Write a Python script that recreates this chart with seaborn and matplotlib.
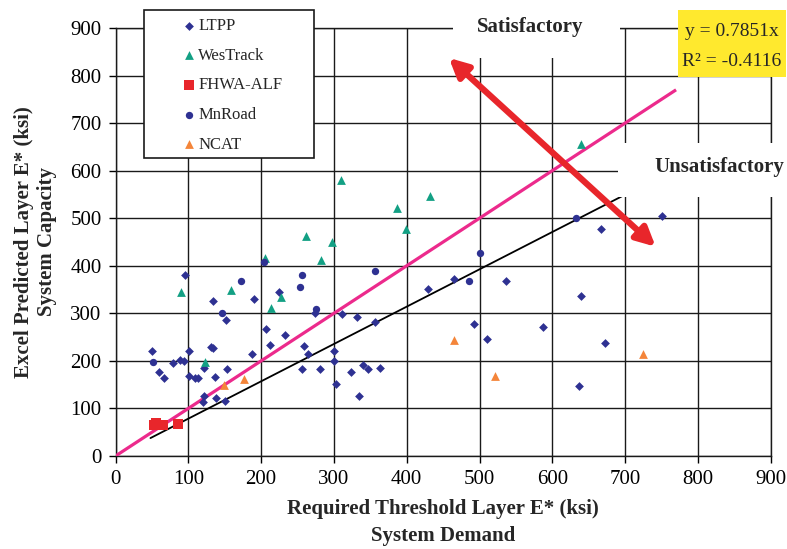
import matplotlib
matplotlib.use("Agg")
import numpy as np
import pandas as pd
import matplotlib.pyplot as plt
from matplotlib.patches import Rectangle
import seaborn as sns

# ---- data (ksi) ----
ltpp_x = [96, 134, 152, 190, 225, 207, 212, 233, 259, 264, 256, 50, 60, 67, 79, 89, 94,
          101, 101, 109, 114, 122, 131, 134, 137, 153, 188, 122, 120, 138, 150, 274, 311,
          332, 357, 429, 465, 492, 510, 300, 300, 281, 324, 340, 347, 364, 303, 335, 750,
          667, 536, 639, 587, 673, 637]
ltpp_y = [380, 326, 286, 330, 345, 267, 233, 254, 231, 214, 183, 221, 176, 164, 195, 202, 200,
          221, 169, 164, 164, 186, 230, 228, 166, 183, 214, 126, 113, 121, 115, 301, 299,
          292, 282, 351, 372, 278, 247, 221, 200, 183, 177, 191, 183, 185, 151, 126, 504,
          478, 367, 337, 271, 237, 147]

westrack_x = [90, 159, 205, 213, 227, 262, 123, 310, 432, 386, 399, 297, 282, 640]
westrack_y = [345, 350, 417, 311, 335, 463, 197, 580, 547, 521, 478, 450, 412, 657]

fhwa_x = [53, 55, 65, 86]
fhwa_y = [66, 70, 66, 67]

mnroad_x = [52, 146, 172, 204, 256, 253, 275, 357, 501, 485, 633]
mnroad_y = [198, 301, 367, 407, 381, 356, 310, 390, 426, 367, 500]

ncat_x = [149, 176, 465, 521, 724]
ncat_y = [149, 162, 243, 169, 214]

trend_slope = 0.7851
r_squared = -0.4116
trend_range = [48, 700]
equality_range = [0, 770]

sources = ["LTPP", "WesTrack", "FHWA-ALF", "MnRoad", "NCAT"]
series = {
    "LTPP": (ltpp_x, ltpp_y),
    "WesTrack": (westrack_x, westrack_y),
    "FHWA-ALF": (fhwa_x, fhwa_y),
    "MnRoad": (mnroad_x, mnroad_y),
    "NCAT": (ncat_x, ncat_y),
}
marker_style = {
    "LTPP": ("D", "#2E3192", 20),
    "WesTrack": ("^", "#13A084", 40),
    "FHWA-ALF": ("s", "#E8262B", 50),
    "MnRoad": ("o", "#2E3192", 28),
    "NCAT": ("^", "#F4853A", 40),
}

df = pd.concat(
    [pd.DataFrame({"demand": series[s][0], "capacity": series[s][1], "source": s}) for s in sources],
    ignore_index=True,
)

sns.set_style("ticks")
plt.rcParams["font.family"] = ["Liberation Serif", "DejaVu Serif"]

W, H = 787, 549
fig = plt.figure(figsize=(W / 100, H / 100), dpi=100)
ax = fig.add_axes([115.5 / W, (H - 456) / H, (770.7 - 115.5) / W, (456 - 28) / H])

def fx(px):
    return px / W

def fy(py):
    return 1 - py / H

# scatter series
for s in sources:
    m, c, size = marker_style[s]
    sns.scatterplot(data=df[df["source"] == s], x="demand", y="capacity", marker=m,
                    color=c, s=size, linewidth=0, ax=ax, label=s, zorder=4, legend=False)

# line of equality and linear trend
eq = np.array(equality_range)
ax.plot(eq, eq, color="#EC2A8C", lw=2.3, zorder=3, solid_capstyle="butt")
tr = np.array(trend_range)
ax.plot(tr, trend_slope * tr, color="black", lw=1.3, zorder=3)

ax.set_xlim(0, 900)
ax.set_ylim(0, 900)
ax.set_xticks(np.arange(0, 901, 100))
ax.set_yticks(np.arange(0, 901, 100))
ax.grid(True, color="#1a1a1a", lw=1.0)
ax.set_axisbelow(True)
for sp in ax.spines.values():
    sp.set_color("#1a1a1a")
    sp.set_linewidth(1.0)
ax.tick_params(direction="out", length=5, width=1, labelsize=15, pad=5, colors="black")

ax.set_xlabel("Required Threshold Layer E* (ksi)\nSystem Demand", fontsize=15,
              fontweight="bold", linespacing=1.5)
ax.xaxis.set_label_coords(0.5, -0.1)
ax.set_ylabel("Excel Predicted Layer E* (ksi)\nSystem Capacity", fontsize=15,
              fontweight="bold", linespacing=1.15)
ax.yaxis.set_label_coords(-0.09, 0.5)

# Satisfactory / Unsatisfactory zone labels
ax.add_patch(Rectangle((fx(453), fy(58)), fx(620) - fx(453), fy(8) - fy(58),
                       transform=fig.transFigure, facecolor="white", edgecolor="none",
                       clip_on=False, zorder=5))
fig.text(fx(530), fy(27), "Satisfactory", fontsize=15, fontweight="bold",
         ha="center", va="center", zorder=6)
ax.add_patch(Rectangle((fx(618), fy(197)), fx(787) - fx(618), fy(143) - fy(197),
                       transform=fig.transFigure, facecolor="white", edgecolor="none",
                       clip_on=False, zorder=5))
fig.text(fx(719), fy(167), "Unsatisfactory", fontsize=15, fontweight="bold",
         ha="center", va="center", zorder=6)

# double-headed arrow between the zones
ax.annotate("", xy=(458, 837), xytext=(742, 440),
            arrowprops=dict(arrowstyle="<|-|>", color="#E8262B", lw=4.5,
                            mutation_scale=28, shrinkA=0, shrinkB=0),
            zorder=7)

# regression equation box
ax.add_patch(Rectangle((fx(678), fy(77)), fx(786) - fx(678), fy(10) - fy(77),
                       transform=fig.transFigure, facecolor="#FFE92E", edgecolor="none",
                       clip_on=False, zorder=5))
fig.text(fx(732), fy(31), f"y = {trend_slope}x", fontsize=14, ha="center", va="center", zorder=6)
fig.text(fx(732), fy(61), f"R\u00b2 = {r_squared}", fontsize=14, ha="center", va="center", zorder=6)

# legend with its own white box
ax.add_patch(Rectangle((fx(144), fy(158)), fx(314) - fx(144), fy(10) - fy(158),
                       transform=fig.transFigure, facecolor="white", edgecolor="#1a1a1a",
                       lw=1.2, clip_on=False, zorder=5))
handles, labels = ax.get_legend_handles_labels()
leg = ax.legend(handles, labels, loc="upper left",
                bbox_to_anchor=(fx(184.3), fy(18)), bbox_transform=fig.transFigure,
                frameon=False, borderpad=0, borderaxespad=0, handlelength=0.6,
                handletextpad=0.24, labelspacing=0.82, fontsize=12)
leg.set_zorder(6)

fig.savefig("out.png", dpi=100)
